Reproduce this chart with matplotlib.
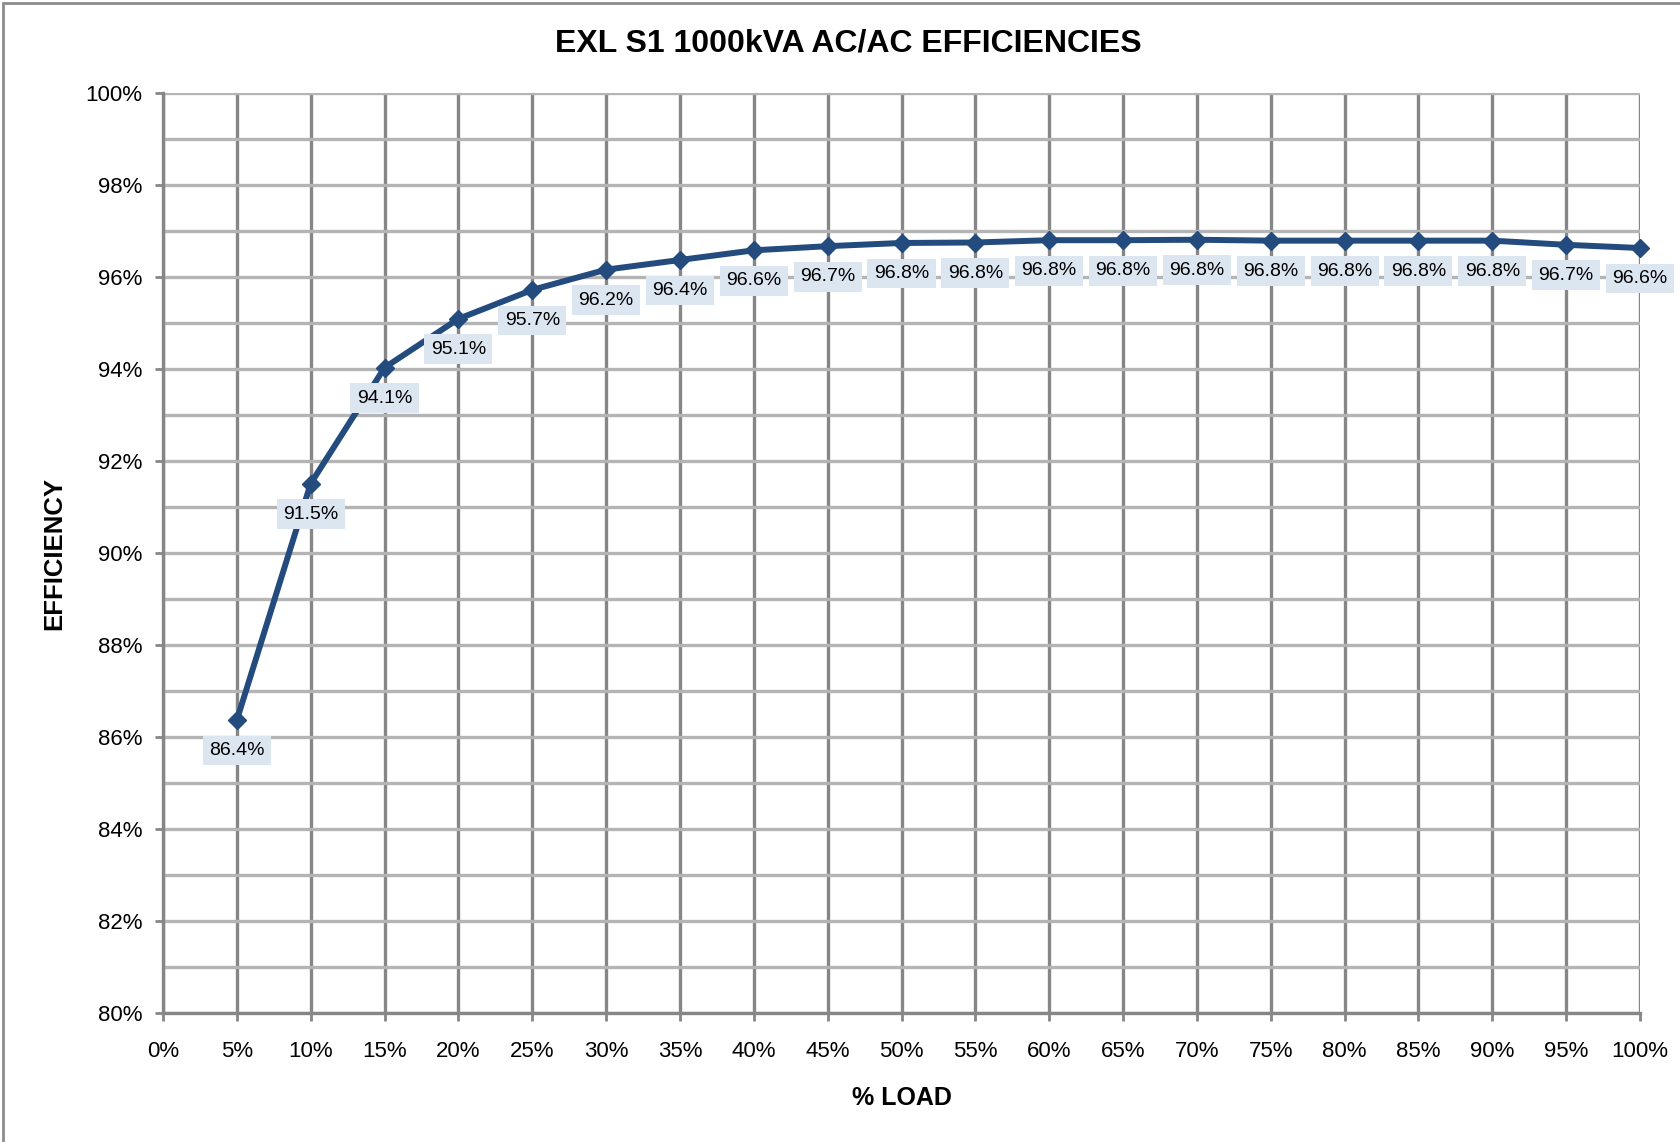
import numpy as np
import matplotlib.pyplot as plt
from matplotlib.patches import Rectangle
from matplotlib.ticker import MultipleLocator, FuncFormatter

plt.rcParams['font.family'] = ['Liberation Sans', 'DejaVu Sans']

load = [5, 10, 15, 20, 25, 30, 35, 40, 45, 50, 55, 60, 65, 70, 75, 80, 85, 90, 95, 100]
eff = [86.37, 91.51, 94.03, 95.09, 95.72, 96.16, 96.37, 96.58, 96.67, 96.74, 96.75,
       96.80, 96.80, 96.81, 96.79, 96.79, 96.79, 96.79, 96.70, 96.63]
labels = ["86.4%", "91.5%", "94.1%", "95.1%", "95.7%", "96.2%", "96.4%", "96.6%",
          "96.7%", "96.8%", "96.8%", "96.8%", "96.8%", "96.8%", "96.8%", "96.8%",
          "96.8%", "96.8%", "96.7%", "96.6%"]

W, H = 1680, 1142
fig = plt.figure(figsize=(W / 100, H / 100), dpi=100)
ax = fig.add_axes([163 / W, 1 - 1013 / H, (1640 - 163) / W, (1013 - 93) / H])

# outer frame of the chart area
fig.patches.append(Rectangle((3 / W, -0.05), 1.1, 1 - 3 / H + 0.05, transform=fig.transFigure,
                             fill=False, edgecolor='#8c8c8c', linewidth=2))

ax.set_xlim(0, 100)
ax.set_ylim(80, 100)
ax.xaxis.set_major_locator(MultipleLocator(5))
ax.yaxis.set_major_locator(MultipleLocator(2))
ax.yaxis.set_minor_locator(MultipleLocator(1))
ax.xaxis.set_major_formatter(FuncFormatter(lambda v, p: f"{v:.0f}%"))
ax.yaxis.set_major_formatter(FuncFormatter(lambda v, p: f"{v:.0f}%"))

ax.grid(axis='x', which='major', color='#868686', linewidth=2.4)
ax.grid(axis='y', which='both', color='#b4b4b4', linewidth=2.4)
ax.set_axisbelow(True)
for s in ['top', 'right']:
    ax.spines[s].set_visible(False)
for s in ['left', 'bottom']:
    ax.spines[s].set_color('#868686')
    ax.spines[s].set_linewidth(2.4)
ax.tick_params(axis='both', which='major', length=6, width=2, color='#868686',
               labelsize=16)
ax.tick_params(axis='y', pad=9)
ax.tick_params(axis='x', pad=14)
ax.tick_params(axis='y', which='minor', length=0)

ax.plot(load, eff, color='#234b7e', linewidth=4.3, marker='D', markersize=9, zorder=3,
        clip_on=False)

for x, y, t in zip(load, eff, labels):
    ax.annotate(t, (x, y), xytext=(0, -22), textcoords='offset points',
                ha='center', va='center', fontsize=14, zorder=4,
                bbox=dict(boxstyle='square,pad=0.33', facecolor='#dce6f1', edgecolor='none'))

fig.text(848 / W, 1 - 43 / H, "EXL S1 1000kVA AC/AC EFFICIENCIES", ha='center', va='center',
         fontsize=23, fontweight='bold')
fig.text(54 / W, 1 - 553 / H, "EFFICIENCY", ha='center', va='center', rotation=90,
         fontsize=18.5, fontweight='bold')
fig.text(902 / W, 1 - 1098 / H, "% LOAD", ha='center', va='center',
         fontsize=18, fontweight='bold')

fig.savefig("out.png", dpi=100)
